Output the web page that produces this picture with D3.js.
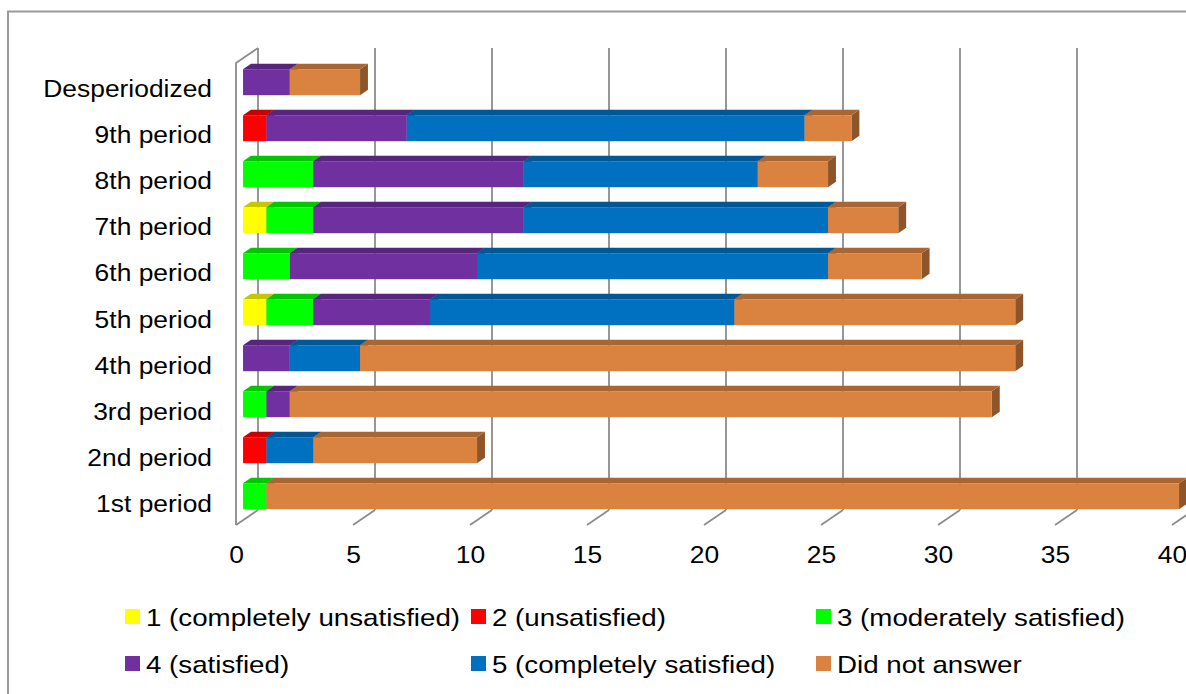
<!DOCTYPE html>
<html>
<head>
<meta charset="utf-8">
<script src="https://cdn.jsdelivr.net/npm/d3@7"></script>
<style>
  html, body { margin: 0; padding: 0; background: #fff; }
  svg { display: block; font-family: "Liberation Sans", Arial, sans-serif; }
</style>
</head>
<body>
<svg id="chart" width="1186" height="694"></svg>
<script>
// Survey answers per period (count of respondents per satisfaction level)
const categories = ["Desperiodized", "9th period", "8th period", "7th period", "6th period",
                    "5th period", "4th period", "3rd period", "2nd period", "1st period"];
const seriesNames = ["1 (completely unsatisfied)", "2 (unsatisfied)", "3 (moderately satisfied)",
                     "4 (satisfied)", "5 (completely satisfied)", "Did not answer"];
const completelyUnsatisfied = [0, 0, 0, 1, 0, 1, 0, 0, 0, 0];
const unsatisfied           = [0, 1, 0, 0, 0, 0, 0, 0, 1, 0];
const moderatelySatisfied   = [0, 0, 3, 2, 2, 2, 0, 1, 0, 1];
const satisfied             = [2, 6, 9, 9, 8, 5, 2, 1, 0, 0];
const completelySatisfied   = [0, 17, 10, 13, 15, 13, 3, 0, 2, 0];
const didNotAnswer          = [3, 2, 3, 3, 4, 12, 28, 30, 7, 39];
const xTicks = [0, 5, 10, 15, 20, 25, 30, 35, 40];
const colors = ["#FFFF00", "#FF0000", "#00FF00", "#7030A0", "#0070C0", "#DA8340"];

const seriesValues = [completelyUnsatisfied, unsatisfied, moderatelySatisfied,
                      satisfied, completelySatisfied, didNotAnswer];
const rows = categories.map((c, i) => {
  const r = { category: c };
  seriesNames.forEach((s, k) => { r[s] = seriesValues[k][i]; });
  return r;
});

const svg = d3.select("#chart");

// outer chart frame
svg.append("rect")
  .attr("x", 8).attr("y", 11.5).attr("width", 1220).attr("height", 720)
  .attr("fill", "none").attr("stroke", "#9a9a9a").attr("stroke-width", 2);

// plot geometry: front plane of the 3D box, and the depth offset to the back wall
const plotTop = 63, plotBottom = 525;
const DX = 22, DY = -15;
const barD0 = 0.32, barD1 = 0.68;   // bars occupy the middle of the depth

const x = d3.scaleLinear().domain([0, 40]).range([236, 1172]);
const y = d3.scaleBand().domain(categories).range([plotTop, plotBottom])
  .paddingInner(0.435).paddingOuter(0.239);

const gridColor = "#8c8c8c";
const grid = svg.append("g").attr("stroke", gridColor).attr("stroke-width", 1.8).attr("fill", "none");

// back wall vertical gridlines
grid.selectAll("line.back").data(xTicks).join("line")
  .attr("class", "back")
  .attr("x1", d => x(d) + DX).attr("x2", d => x(d) + DX)
  .attr("y1", plotTop + DY).attr("y2", plotBottom + DY);

// floor tick marks running from front to back
grid.selectAll("line.floor").data(xTicks).join("line")
  .attr("class", "floor")
  .attr("x1", d => x(d)).attr("x2", d => x(d) + DX)
  .attr("y1", plotBottom).attr("y2", plotBottom + DY);

// left side wall
grid.append("path")
  .attr("d", `M${x(0)},${plotBottom} L${x(0)},${plotTop} L${x(0) + DX},${plotTop + DY}`);

// stacked 3D bars
const stack = d3.stack().keys(seriesNames);
const stacked = stack(rows);

const fx = DX * barD0, fy = DY * barD0;                 // front face offset
const tx = DX * (barD1 - barD0), ty = DY * (barD1 - barD0); // face depth

const barsG = svg.append("g");
categories.forEach((c, ci) => {
  const g = barsG.append("g");
  stacked.forEach((layer, k) => {
    const seg = layer[ci];
    if (seg[1] - seg[0] <= 0) return;
    const x0 = x(seg[0]) + fx, x1 = x(seg[1]) + fx;
    const yt = y(c) + fy, yb = y(c) + y.bandwidth() + fy;
    const base = d3.color(colors[k]);
    // right side
    g.append("path")
      .attr("d", `M${x1},${yt} L${x1 + tx},${yt + ty} L${x1 + tx},${yb + ty} L${x1},${yb} Z`)
      .attr("fill", base.darker(1.22).formatHex());
    // top
    g.append("path")
      .attr("d", `M${x0},${yt} L${x1},${yt} L${x1 + tx},${yt + ty} L${x0 + tx},${yt + ty} Z`)
      .attr("fill", base.darker(0.7).formatHex());
    // front
    g.append("rect")
      .attr("x", x0).attr("y", yt)
      .attr("width", x1 - x0).attr("height", yb - yt)
      .attr("fill", base.formatHex());
  });
});

// category axis labels
const yAxis = d3.axisLeft(y).tickSize(0).tickPadding(0);
const yAxisG = svg.append("g")
  .attr("transform", "translate(212,10.5)")
  .call(yAxis);
yAxisG.select(".domain").remove();
yAxisG.selectAll("text")
  .attr("x", 0).attr("dy", null).attr("dominant-baseline", null)
  .attr("y", y.bandwidth() / 2 - y.bandwidth() / 2)
  .attr("transform", "scale(1.1,1)")
  .attr("fill", "#000")
  .style("font-size", "24px")
  .style("font-family", "'Liberation Sans', Arial, sans-serif");

// value axis labels
const xAxis = d3.axisBottom(x).tickValues(xTicks).tickSize(0).tickPadding(0).tickFormat(d3.format("d"));
const xAxisG = svg.append("g")
  .attr("transform", `translate(0,${plotBottom + 38})`)
  .call(xAxis);
xAxisG.select(".domain").remove();
xAxisG.selectAll("text")
  .attr("y", 0).attr("dy", null)
  .attr("transform", "scale(1.1,1)")
  .attr("fill", "#000")
  .style("font-size", "24px")
  .style("font-family", "'Liberation Sans', Arial, sans-serif");

// legend
const legendCols = [125, 471, 816];
const legendRows = [609, 656];
const legend = svg.append("g");
seriesNames.forEach((s, k) => {
  const lx = legendCols[k % 3], ly = legendRows[Math.floor(k / 3)];
  legend.append("rect")
    .attr("x", lx).attr("y", ly).attr("width", 15).attr("height", 15)
    .attr("fill", colors[k]);
  legend.append("text")
    .attr("transform", `translate(${lx + 21},${ly + 17}) scale(1.155,1)`)
    .attr("fill", "#000")
    .style("font-size", "24px")
    .text(s);
});
</script>
</body>
</html>
